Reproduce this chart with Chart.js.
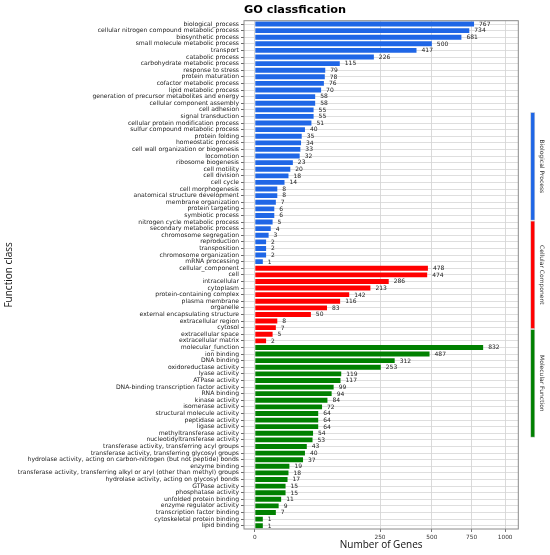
<!DOCTYPE html>
<html>
<head>
<meta charset="utf-8">
<script src="https://cdn.jsdelivr.net/npm/chart.js@4/dist/chart.umd.min.js"></script>
<style>
  body { margin: 0; background: #fff; }
  canvas { display: block; }
</style>
</head>
<body>
<canvas id="go_chart" width="550" height="555"></canvas>
<script>
// GO terms, three groups
const bpLabels = ["biological_process", "cellular nitrogen compound metabolic process", "biosynthetic process",
    "small molecule metabolic process", "transport", "catabolic process", "carbohydrate metabolic process",
    "response to stress", "protein maturation", "cofactor metabolic process", "lipid metabolic process",
    "generation of precursor metabolites and energy", "cellular component assembly", "cell adhesion",
    "signal transduction", "cellular protein modification process", "sulfur compound metabolic process",
    "protein folding", "homeostatic process", "cell wall organization or biogenesis", "locomotion",
    "ribosome biogenesis", "cell motility", "cell division", "cell cycle", "cell morphogenesis",
    "anatomical structure development", "membrane organization", "protein targeting", "symbiotic process",
    "nitrogen cycle metabolic process", "secondary metabolic process", "chromosome segregation",
    "reproduction", "transposition", "chromosome organization", "mRNA processing"];
const bpValues = [767, 734, 681, 500, 417, 226, 115, 79, 78, 76, 70, 58, 58, 55, 55, 51, 40, 35, 34, 33, 32,
    23, 20, 18, 14, 8, 8, 7, 6, 6, 5, 4, 3, 2, 2, 2, 1];

const ccLabels = ["cellular_component", "cell", "intracellular", "cytoplasm", "protein-containing complex",
    "plasma membrane", "organelle", "external encapsulating structure", "extracellular region", "cytosol",
    "extracellular space", "extracellular matrix"];
const ccValues = [478, 474, 286, 213, 142, 116, 83, 50, 8, 7, 5, 2];

const mfLabels = ["molecular_function", "ion binding", "DNA binding", "oxidoreductase activity", "lyase activity",
    "ATPase activity", "DNA-binding transcription factor activity", "RNA binding", "kinase activity",
    "isomerase activity", "structural molecule activity", "peptidase activity", "ligase activity",
    "methyltransferase activity", "nucleotidyltransferase activity",
    "transferase activity, transferring acyl groups", "transferase activity, transferring glycosyl groups",
    "hydrolase activity, acting on carbon-nitrogen (but not peptide) bonds", "enzyme binding",
    "transferase activity, transferring alkyl or aryl (other than methyl) groups",
    "hydrolase activity, acting on glycosyl bonds", "GTPase activity", "phosphatase activity",
    "unfolded protein binding", "enzyme regulator activity", "transcription factor binding",
    "cytoskeletal protein binding", "lipid binding"];
const mfValues = [832, 487, 312, 253, 119, 117, 99, 94, 84, 72, 64, 64, 64, 54, 53, 43, 40, 37, 19, 18, 17,
    15, 15, 11, 9, 7, 1, 1];

const groupNames = ["Biological Process", "Cellular Component", "Molecular Function"];
const groupColors = ["#1f66e6", "#ff0000", "#008000"];
const xTicks = [0, 250, 500, 750, 1000];

const labels = [...bpLabels, ...ccLabels, ...mfLabels];
const values = [...bpValues, ...ccValues, ...mfValues];
const colors = [
    ...bpLabels.map(() => groupColors[0]),
    ...ccLabels.map(() => groupColors[1]),
    ...mfLabels.map(() => groupColors[2])
];

// square-root axis, like the reference's x scale
class SqrtScale extends Chart.LinearScale {
    tr(v) { return Math.sign(v) * Math.sqrt(Math.abs(v)); }
    getPixelForValue(value) {
        const a = this.tr(this.min), b = this.tr(this.max);
        return this.getPixelForDecimal((this.tr(value) - a) / (b - a));
    }
    getValueForPixel(pixel) {
        const a = this.tr(this.min), b = this.tr(this.max);
        const t = a + this.getDecimalForPixel(pixel) * (b - a);
        return Math.sign(t) * t * t;
    }
}
SqrtScale.id = 'sqrt';
SqrtScale.defaults = {};
Chart.register(SqrtScale);

const decor = {
    id: 'decor',
    afterDatasetsDraw(chart) {
        const ctx = chart.ctx;
        const meta = chart.getDatasetMeta(0);
        ctx.save();
        ctx.font = '6px "DejaVu Sans"';
        ctx.fillStyle = '#222';
        ctx.textAlign = 'left';
        ctx.textBaseline = 'middle';
        meta.data.forEach((bar, i) => {
            ctx.fillText(values[i], bar.x + 5, bar.y + 0.3);
        });
        ctx.restore();
    },
    afterDraw(chart) {
        const ctx = chart.ctx;
        const area = chart.chartArea;
        ctx.save();
        // frame
        ctx.strokeStyle = '#8a8a8a';
        ctx.lineWidth = 1;
        ctx.strokeRect(area.left, area.top, area.right - area.left, area.bottom - area.top);

        // title
        ctx.font = 'bold 11.3px "DejaVu Sans"';
        ctx.fillStyle = '#000';
        ctx.textAlign = 'center';
        ctx.textBaseline = 'middle';
        ctx.fillText('GO classfication', 295, 10.5);

        // group bars on the right
        const segLen = 108.5;
        const midY = (area.top + area.bottom) / 2;
        const startY = midY - segLen * groupNames.length / 2;
        const barX = area.right + 12.5;
        groupNames.forEach((name, g) => {
            const y0 = startY + g * segLen;
            ctx.fillStyle = groupColors[g];
            ctx.fillRect(barX, y0 + 0.5, 4, segLen - 1);
            ctx.strokeStyle = '#cfcfcf';
            ctx.lineWidth = 0.5;
            ctx.strokeRect(barX, y0 + 0.5, 4, segLen - 1);
            ctx.save();
            ctx.translate(barX + 11, y0 + segLen / 2);
            ctx.rotate(Math.PI / 2);
            ctx.font = '6px "DejaVu Sans"';
            ctx.fillStyle = '#333';
            ctx.textAlign = 'center';
            ctx.textBaseline = 'middle';
            ctx.fillText(name, 0, 0);
            ctx.restore();
        });
        ctx.restore();
    }
};

Chart.defaults.font.family = '"DejaVu Sans", sans-serif';

new Chart(document.getElementById('go_chart'), {
    type: 'bar',
    data: {
        labels: labels,
        datasets: [{
            data: values,
            backgroundColor: colors,
            barPercentage: 0.74,
            categoryPercentage: 1.0
        }]
    },
    options: {
        indexAxis: 'y',
        responsive: false,
        animation: false,
        layout: {
            padding: { top: 20.7, right: 31.7, left: 0, bottom: 0 }
        },
        scales: {
            x: {
                type: 'sqrt',
                min: -1.9,
                max: 1108,
                afterBuildTicks: (scale) => {
                    scale.ticks = xTicks.map(v => ({ value: v }));
                },
                afterFit: (scale) => { scale.height = 26; },
                grid: { color: '#d0d0d0', lineWidth: 0.8, tickLength: 3, tickColor: '#555' },
                border: { display: false },
                ticks: {
                    font: { size: 5.8 },
                    color: '#333',
                    padding: 2,
                    maxRotation: 0,
                    callback: (v) => String(v)
                },
                title: {
                    display: true,
                    text: 'Number of Genes',
                    font: { family: '"Open Sans"', size: 10 },
                    color: '#111',
                    padding: { top: 4, bottom: 4 }
                }
            },
            y: {
                type: 'category',
                offset: true,
                afterFit: (scale) => { scale.width = 244; },
                grid: { offset: false, color: '#d6d6d6', lineWidth: 0.8, tickLength: 3, tickColor: '#444' },
                border: { display: false },
                ticks: {
                    autoSkip: false,
                    font: { size: 6.1 },
                    color: '#222',
                    padding: 2
                },
                title: {
                    display: true,
                    text: 'Function class',
                    font: { family: '"Open Sans"', size: 10 },
                    color: '#111',
                    padding: { top: 3.5, bottom: 0 }
                }
            }
        },
        plugins: {
            legend: { display: false },
            tooltip: { enabled: false }
        }
    },
    plugins: [decor]
});
</script>
</body>
</html>
